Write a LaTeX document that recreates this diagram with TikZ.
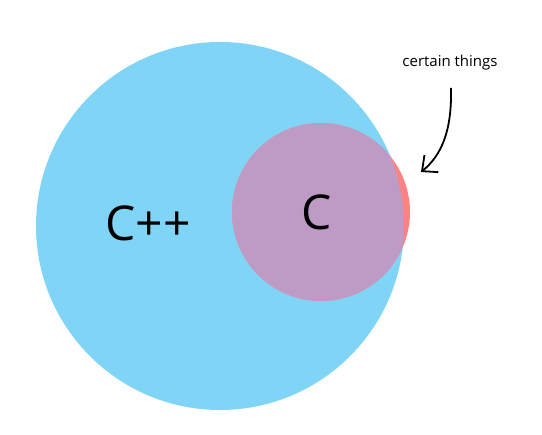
\documentclass[tikz,border=0pt]{standalone}
\usepackage{fontspec}
\setmainfont{Open Sans}
\definecolor{cppblue}{RGB}{128,213,247}
\definecolor{cred}{RGB}{255,130,130}
\definecolor{overlap}{RGB}{189,155,197}
\usetikzlibrary{arrows.meta}

\begin{document}
\begin{tikzpicture}[
      x=1pt, y=1pt,
      lang/.style={font=\fontsize{48}{48}\selectfont, text=black},
      note/.style={font=\fontsize{15}{15}\selectfont, text=black},
      pointer/.style={-{Straight Barb[length=12pt,width=22pt]}, line width=1.8pt, black}
    ]
    \useasboundingbox (0,0) rectangle (542,435);

    % sets
    \fill[cppblue] (220,209) circle (184);
    \fill[cred] (321,223) circle (89);
    \begin{scope}
      \clip (220,209) circle (184);
      \fill[overlap] (321,223) circle (89);
    \end{scope}

    \node[lang] (cpp) at (148,212) {C++};
    \node[lang] (c) at (317,223) {C};
    \node[note] (things) at (450,372) {certain things};

    \coordinate (tail) at (451,347);
    \coordinate (tip) at (421,263);
    \draw[pointer] (tail) .. controls (452,305) and (442,280) .. (tip);
  \end{tikzpicture}
\end{document}
